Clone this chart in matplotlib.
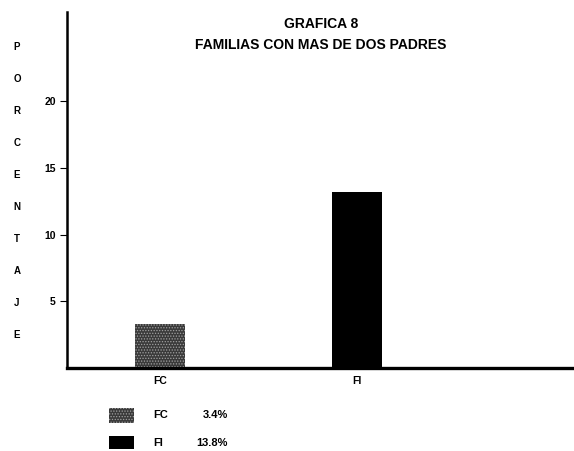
import matplotlib
matplotlib.use("Agg")
import matplotlib.pyplot as plt
from matplotlib.patches import Rectangle

categories = ["FC", "FI"]
heights = [3.3, 13.2]          # bar heights as drawn
legend_pct = ["3.4%", "13.8%"]  # percentages printed in the legend
yticks = [5, 10, 15, 20]
ylabel_letters = list("PORCENTAJE")

plt.rcParams["font.family"] = ["Liberation Sans", "DejaVu Sans"]
plt.rcParams["hatch.color"] = "#a0a0a0"
plt.rcParams["hatch.linewidth"] = 0.6

fig = plt.figure(figsize=(5.74, 4.51), dpi=100)
ax = fig.add_axes([67 / 574, 83 / 451, 507 / 574, 356 / 451])

x = list(range(len(categories)))
ax.bar(x[0], heights[0], width=0.255, color="#3a3a3a", hatch="......", edgecolor="#a0a0a0", linewidth=0)
ax.bar(x[1], heights[1], width=0.255, color="black", linewidth=0)

ax.set_xlim(-0.472, 2.10)
ax.set_ylim(0, 26.7)
for s in ("top", "right"):
    ax.spines[s].set_visible(False)
ax.spines["left"].set_linewidth(1.8)
ax.spines["bottom"].set_linewidth(2.4)
ax.set_yticks(yticks)
ax.set_yticklabels([str(t) for t in yticks], fontsize=7.5, fontweight="bold")
ax.tick_params(axis="y", length=5, width=0.8, pad=3)
ax.set_xticks(x)
ax.set_xticklabels(categories, fontsize=7.5, fontweight="bold")
ax.tick_params(axis="x", length=0, pad=6)

fig.text(321 / 574, 1 - 24 / 451, "GRAFICA 8", ha="center", va="center",
         fontsize=10, fontweight="bold")
fig.text(321 / 574, 1 - 45 / 451, "FAMILIAS CON MAS DE DOS PADRES", ha="center",
         va="center", fontsize=10, fontweight="bold")

for i, ch in enumerate(ylabel_letters):
    fig.text(17 / 574, 1 - (47 + i * 32) / 451, ch, ha="center", va="center",
             fontsize=7, fontweight="bold")

# legend
swatches = [(408, 15), (436, 13)]
styles = [dict(facecolor="#3a3a3a", hatch="......", edgecolor="#a0a0a0", linewidth=0),
          dict(facecolor="black", linewidth=0)]
for (yy, hh), cat, pct, st in zip(swatches, categories, legend_pct, styles):
    fig.add_artist(Rectangle((109 / 574, 1 - (yy + hh) / 451), 25 / 574, hh / 451,
                             transform=fig.transFigure, **st))
    fig.text(153 / 574, 1 - (yy + hh / 2) / 451, cat, ha="left", va="center",
             fontsize=8, fontweight="bold")
    fig.text(228 / 574, 1 - (yy + hh / 2) / 451, pct, ha="right", va="center",
             fontsize=8, fontweight="bold")

fig.savefig("out.png", dpi=100)
